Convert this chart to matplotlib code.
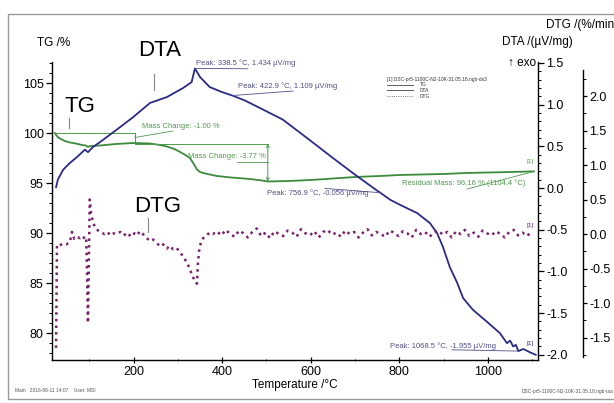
import matplotlib
matplotlib.use("Agg")
import matplotlib.pyplot as plt
import matplotlib.ticker as mticker
from matplotlib.lines import Line2D
from matplotlib.patches import Rectangle

plt.rcParams['font.family'] = ['Liberation Sans', 'DejaVu Sans']
plt.rcParams['axes.unicode_minus'] = False

# TG (%) vs temperature
tg_T = [22, 26, 30, 38, 45, 56, 70, 83, 92, 97, 102, 124, 160, 200, 237, 260, 275,
        292, 305, 317, 327, 336, 343, 350, 357, 372, 388, 420, 463, 490, 503, 550,
        600, 650, 700, 756, 800, 850, 900, 950, 1000, 1050, 1104]
tg_val = [100.0, 99.75, 99.55, 99.35, 99.2, 99.05, 98.95, 98.8, 98.75, 98.6, 98.7,
          98.75, 98.9, 99.0, 98.95, 98.8, 98.65, 98.4, 98.1, 97.8, 97.5, 96.9, 96.35,
          96.1, 96.0, 95.85, 95.7, 95.55, 95.4, 95.25, 95.15, 95.2, 95.3, 95.45,
          95.6, 95.7, 95.8, 95.85, 95.9, 96.0, 96.05, 96.1, 96.16]

# DTA (uV/mg)
dta_T = [25, 29, 41, 56, 72, 90, 97, 108, 124, 162, 199, 237, 275, 312, 331, 338.5,
         350, 372, 400, 422.9, 451, 485, 537, 600, 650, 700, 752, 756.9, 779, 801,
         840, 869, 885, 898, 914, 930, 944, 966, 997, 1027, 1043, 1050, 1057, 1063,
         1068.5, 1080, 1095, 1108]
dta_val = [0.01, 0.10, 0.22, 0.30, 0.37, 0.46, 0.43, 0.49, 0.55, 0.70, 0.85, 1.02,
           1.09, 1.20, 1.27, 1.434, 1.33, 1.21, 1.15, 1.109, 1.05, 0.96, 0.82, 0.565,
           0.36, 0.16, -0.04, -0.056, -0.14, -0.20, -0.30, -0.42, -0.54, -0.70, -0.95,
           -1.13, -1.32, -1.46, -1.60, -1.74, -1.86, -1.83, -1.90, -1.88, -1.955,
           -1.93, -1.97, -2.00]

# DTG (%/min)
dtg_T = [25, 27, 32, 40, 48, 56, 61, 66, 72, 79, 85, 90, 93, 95, 97, 99, 101, 104,
         108, 114, 120, 127, 134, 141, 148, 155, 162, 170, 178, 186, 194, 202, 208,
         214, 221, 228, 237, 244, 252, 260, 267, 275, 282, 289, 297, 305, 313, 321,
         327, 332, 338, 343, 345, 348, 352, 357, 364, 371, 379,
         388, 398, 408, 418, 428, 438, 448, 458, 468, 478, 488, 498, 508, 518, 528,
         538, 548, 558, 568, 578, 588, 598, 608, 618, 628, 638, 648, 658, 668, 678,
         688, 698, 708, 718, 728, 738, 748, 758, 768, 778, 788, 798, 808, 818, 828,
         838, 848, 858, 868, 878, 888, 898, 908, 918, 928, 938, 948, 958, 968, 978,
         988, 998, 1008, 1018, 1028, 1038, 1048, 1058, 1068, 1078, 1088, 1098]
dtg_val = [-1.65, -0.16, -0.17, -0.14, -0.15, -0.12, 0.03, -0.07, -0.04, -0.06, -0.03,
           -0.07, -0.05, -0.6, -1.29, -0.4, 0.5, 0.3, 0.18, 0.08, 0.05, 0.02, 0.0,
           0.03, -0.02, 0.01, 0.0, 0.03, -0.02, 0.02, -0.04, 0.01, -0.02, 0.04, 0.0,
           -0.05, -0.1, -0.08, -0.13, -0.18, -0.15, -0.21, -0.17, -0.22, -0.2, -0.27,
           -0.33, -0.43, -0.5, -0.6, -0.67, -0.72, -0.45, -0.24, -0.12, -0.06, -0.03,
           0.02, 0.0,
           0.04, -0.02, 0.06, 0.0, -0.04, 0.05, 0.01, -0.05, 0.03, 0.08, -0.03, 0.02,
           -0.06, 0.04, 0.0, -0.03, 0.05, 0.02, -0.04, 0.07, 0.01, -0.02, 0.04, -0.05,
           0.03, 0.06, -0.01, 0.02, -0.04, 0.05, 0.0, 0.03, -0.05, 0.02, 0.07, -0.02,
           0.03, 0.0, -0.04, 0.05, 0.02, -0.03, 0.04, 0.01, -0.05, 0.06, 0.0, 0.03,
           -0.04, 0.02, 0.05, -0.01, 0.03, -0.05, 0.04, 0.0, 0.06, -0.03, 0.02, -0.04,
           0.05, 0.01, -0.02, 0.04, 0.0, -0.05, 0.03, 0.06, -0.02, 0.02, -0.03, 0.03]

c_tg = '#3d8a3d'
c_dta = '#2b2b85'
c_dtg = '#7a1f6c'
c_peak = '#50508a'
c_mass = '#4f9a4f'

W, H = 614, 403


def fpos(px, py):
    return px / W, 1 - py / H


fig = plt.figure(figsize=(W / 100, H / 100), dpi=100)
ax = fig.add_axes([52 / W, 1 - 360 / H, 486 / W, 298 / H])
ax2 = ax.twinx()
ax3 = ax.twinx()
ax3.spines['right'].set_position(('outward', 45 * 0.72))

for a in (ax, ax2, ax3):
    a.patch.set_visible(False)
    a.spines['top'].set_visible(False)
ax.spines['right'].set_visible(False)
for a in (ax2, ax3):
    a.spines['left'].set_visible(False)
    a.spines['bottom'].set_visible(False)

ax.plot(tg_T, tg_val, color=c_tg, lw=1.3)
ax2.plot(dta_T, dta_val, color=c_dta, lw=1.3)
ax3.plot(dtg_T, dtg_val, color=c_dtg, lw=1.8, ls=':')

ax.set_xlim(15.8, 1113)
ax.set_ylim(77.3, 107.1)
ax2.set_ylim(-2.062, 1.511)
ax3.set_ylim(-1.826, 2.493)
ax3.spines['right'].set_bounds(-1.78, 2.38)

ax.xaxis.set_major_locator(mticker.MultipleLocator(200))
ax.xaxis.set_minor_locator(mticker.MultipleLocator(100))
ax.yaxis.set_major_locator(mticker.MultipleLocator(5))
ax.yaxis.set_minor_locator(mticker.MultipleLocator(1))
ax.xaxis.set_major_formatter(mticker.FuncFormatter(lambda v, p: '' if v < 100 else '%d' % v))
ax2.yaxis.set_major_locator(mticker.MultipleLocator(0.5))
ax2.yaxis.set_minor_locator(mticker.MultipleLocator(0.1))
ax2.yaxis.set_major_formatter(mticker.FormatStrFormatter('%.1f'))
ax3.yaxis.set_major_locator(mticker.FixedLocator([-1.5, -1.0, -0.5, 0.0, 0.5, 1.0, 1.5, 2.0]))
ax3.yaxis.set_minor_locator(mticker.MultipleLocator(0.25))
ax3.yaxis.set_major_formatter(mticker.FormatStrFormatter('%.1f'))

for a in (ax, ax2, ax3):
    a.tick_params(which='major', length=4, width=0.9, labelsize=9, pad=2)
    a.tick_params(which='minor', length=2, width=0.7)
ax.tick_params(axis='x', which='both', direction='inout', pad=2)
ax3.tick_params(which='major', length=3, pad=1.5)

for a in (ax, ax2, ax3):
    for s in a.spines.values():
        s.set_linewidth(1.0)

# TG mass change markers
ax.plot([22, 203], [100.0, 100.0], color=c_mass, lw=0.7)
ax.plot([203, 203], [100.0, 98.92], color=c_mass, lw=0.7)
ax.plot([203, 503], [98.92, 98.92], color=c_mass, lw=0.7)
ax.annotate('', xy=(503, 95.15), xytext=(503, 98.92),
            arrowprops=dict(arrowstyle='<->', color=c_mass, lw=0.7,
                            mutation_scale=5, shrinkA=0, shrinkB=0))
ax.plot([203, 289], [99.55, 100.2], color=c_mass, lw=0.6)
ax.text(219, 100.7, 'Mass Change: -1.00 %', color=c_mass, fontsize=5.5, va='center')
ax.plot([433, 503], [97.1, 97.1], color=c_mass, lw=0.6)
ax.text(323, 97.6, 'Mass Change: -3.77 %', color=c_mass, fontsize=5.5, va='center')
ax.plot([953, 1104.4], [94.4, 96.16], color=c_mass, lw=0.6)
ax.text(806, 95.0, 'Residual Mass: 96.16 % (1104.4 °C)', color=c_mass, fontsize=5.5,
        va='center')
ax.text(1088, 97.1, '[1]', color=c_mass, fontsize=4.5, va='center')

# DTA peak labels
ax2.plot([338.5, 458], [1.434, 1.43], color=c_peak, lw=0.6)
ax2.text(340, 1.50, 'Peak: 338.5 °C, 1.434 µV/mg', color=c_peak, fontsize=5.5, va='center')
ax2.plot([422.9, 560], [1.109, 1.163], color=c_peak, lw=0.6)
ax2.text(436, 1.223, 'Peak: 422.9 °C, 1.109 µV/mg', color=c_peak, fontsize=5.5, va='center')
ax2.plot([632, 756.9], [-0.005, -0.056], color=c_peak, lw=0.6)
ax2.text(501, -0.06, 'Peak: 756.9 °C, -0.056 µV/mg', color=c_peak, fontsize=5.5, va='center')
ax2.plot([919, 1068.5], [-1.94, -1.955], color=c_peak, lw=0.6)
ax2.text(779, -1.895, 'Peak: 1068.5 °C, -1.955 µV/mg', color=c_peak, fontsize=5.5,
         va='center')
ax2.text(1088, -1.86, '[1]', color=c_dta, fontsize=4.5, va='center')
ax3.text(1088, 0.13, '[1]', color=c_dtg, fontsize=4.5, va='center')

# axis titles
fig.text(*fpos(37, 43), 'TG /%', fontsize=8.5, va='center')
fig.text(*fpos(573, 42), 'DTA /(µV/mg)', fontsize=8.5, va='center', ha='right')
fig.text(*fpos(546, 25), 'DTG /(%/min)', fontsize=8.5, va='center')
fig.text(*fpos(536, 63), '↑ exo', fontsize=8.5, va='center', ha='right')
fig.text(*fpos(295, 385), 'Temperature /°C', fontsize=8.5, va='center', ha='center')

# big curve labels
for lab, (px, py), (tx, ty0, ty1) in [('TG', (80, 106), (69, 118, 128)),
                                      ('DTA', (160, 50), (154, 74, 90)),
                                      ('DTG', (158, 207), (148, 218, 232))]:
    fig.text(*fpos(px, py), lab, fontsize=16, ha='center', va='center')
    fig.add_artist(Line2D([tx / W, tx / W], [1 - ty0 / H, 1 - ty1 / H],
                          color='#888888', lw=0.8, transform=fig.transFigure))

# legend block
fig.text(*fpos(387, 79), '[1] DSC-pr5-1100C-N2-10K-31.05.18.ngb-ds3', fontsize=3.5,
         va='center', color='#333333')
for lab, py, ls in [('TG', 85, '-'), ('DTA', 90, '-'), ('DTG', 96, ':')]:
    fig.add_artist(Line2D([387 / W, 413 / W], [1 - py / H, 1 - py / H], color='#444444',
                          lw=0.6, ls=ls, transform=fig.transFigure))
    fig.text(*fpos(420, py), lab, fontsize=3.5, va='center', color='#333333')

# footer
fig.text(*fpos(15, 391), 'Main   2016-06-11 14:07    User: MSI', fontsize=3.5,
         va='center', color='#555555')
fig.text(*fpos(614, 391), 'DSC-pr5-1100C-N2-10K-31.05.18.ngb-taa', fontsize=3.5,
         va='center', ha='right', color='#555555')

# outer frame
fig.add_artist(Rectangle((8 / W, 1 - 399 / H), 1.0, (399 - 14) / H, fill=False,
                         ec='#999999', lw=1.0, transform=fig.transFigure))

fig.savefig('out.png', dpi=100)
